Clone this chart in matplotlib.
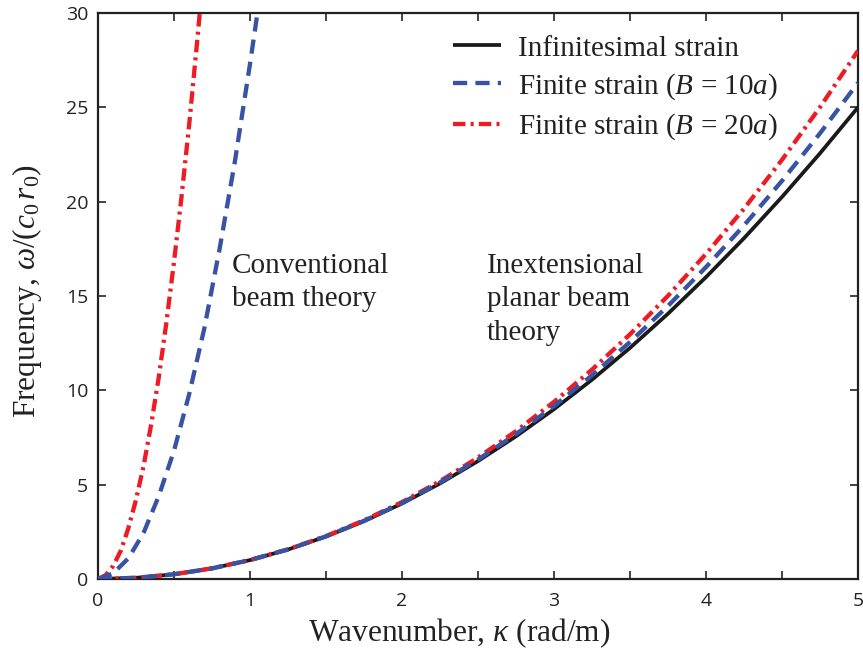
import matplotlib
matplotlib.use("Agg")
import matplotlib.pyplot as plt
from matplotlib.ticker import MultipleLocator

# ---- data ----
kappa = [0, 0.25, 0.5, 0.75, 1, 1.25, 1.5, 1.75, 2, 2.25, 2.5, 2.75, 3,
         3.25, 3.5, 3.75, 4, 4.25, 4.5, 4.75, 5]
omega_inf = [0, 0.0625, 0.25, 0.5625, 1.0, 1.5625, 2.25, 3.0625, 4.0, 5.0625,
             6.25, 7.5625, 9.0, 10.5625, 12.25, 14.0625, 16.0, 18.0625, 20.25,
             22.5625, 25.0]
omega_b10 = [0, 0.0625, 0.25, 0.563, 1.002, 1.568, 2.261, 3.082, 4.033, 5.116,
             6.331, 7.681, 9.168, 10.795, 12.562, 14.474, 16.532, 18.741,
             21.103, 23.621, 26.3]
omega_b20 = [0, 0.0625, 0.25, 0.564, 1.005, 1.574, 2.274, 3.108, 4.077, 5.186,
             6.438, 7.837, 9.389, 11.098, 12.970, 15.012, 17.229, 19.629,
             22.218, 25.006, 28.0]

kappa_conv10 = [0, 0.1, 0.2, 0.3, 0.4, 0.5, 0.6, 0.7, 0.8, 0.9, 1.0, 1.06]
omega_conv10 = [0, 0.3, 1.1, 2.45, 4.4, 6.8, 9.8, 13.3, 17.5, 22.1, 27.3, 30.6]
kappa_conv20 = [0, 0.05, 0.1, 0.15, 0.2, 0.25, 0.3, 0.35, 0.4, 0.45, 0.5,
                0.55, 0.6, 0.65, 0.68]
omega_conv20 = [0, 0.2, 0.7, 1.5, 2.7, 4.2, 6.0, 8.2, 10.7, 13.6, 16.8, 20.3,
                24.1, 28.3, 30.9]

labels = ["Infinitesimal strain", r"Finite strain ($B$ = 10$a$)",
          r"Finite strain ($B$ = 20$a$)"]

# ---- style ----
plt.rcParams["mathtext.fontset"] = "custom"
plt.rcParams["mathtext.rm"] = "Liberation Serif"
plt.rcParams["mathtext.it"] = "Liberation Serif:italic"
plt.rcParams["mathtext.bf"] = "Liberation Serif:bold"

BLACK = "#1a1a1a"
BLUE = "#3953a4"
RED = "#ed1c24"
serif = "Liberation Serif"

fig = plt.figure(figsize=(8.63, 6.56), dpi=100)
ax = fig.add_axes([98 / 863, 1 - 579 / 656, 760 / 863, 566 / 656])

ax.plot(kappa, omega_inf, color=BLACK, lw=2.7, solid_capstyle="butt",
        zorder=3, label=labels[0])
l20, = ax.plot(kappa, omega_b20, color=RED, lw=3.1, zorder=4, label=labels[2])
l20.set_dashes((2.9, 1.2, 0.7, 1.2))
l10, = ax.plot(kappa, omega_b10, color=BLUE, lw=3.1, zorder=5, label=labels[1])
l10.set_dashes((3.3, 1.9))

c20, = ax.plot(kappa_conv20, omega_conv20, color=RED, lw=3.1, zorder=4)
c20.set_dashes((2.9, 1.2, 0.7, 1.2))
c10, = ax.plot(kappa_conv10, omega_conv10, color=BLUE, lw=3.1, zorder=5)
c10.set_dashes((3.3, 1.9))

ax.set_xlim(0, 5)
ax.set_ylim(0, 30)
ax.xaxis.set_major_locator(MultipleLocator(1))
ax.xaxis.set_minor_locator(MultipleLocator(0.5))
ax.yaxis.set_major_locator(MultipleLocator(5))
ax.tick_params(which="both", direction="in", top=True, right=True,
               length=5.5, width=1.2, color="#222222")
ax.tick_params(which="major", labelsize=14, labelcolor="#222222")
ax.tick_params(axis="x", which="major", pad=9)
ax.tick_params(axis="y", which="major", pad=7)
for lab in ax.get_xticklabels() + ax.get_yticklabels():
    lab.set_fontfamily("Open Sans")
for s in ax.spines.values():
    s.set_linewidth(1.6)
    s.set_color("#222222")

ax.set_xlabel(r"Wavenumber, $\kappa$ (rad/m)", fontfamily=serif, fontsize=22.6,
              color="#222222")
ax.set_ylabel(r"Frequency, $\omega/(c_{\mathit{0}}\,r_{\mathit{0}})$",
              fontfamily=serif, fontsize=22.6, color="#222222")
ax.xaxis.set_label_coords(0.475, -0.066)
ax.yaxis.set_label_coords(-0.071, 0.508)

ax.text(0.88, 17.3, "Conventional\nbeam theory", fontfamily=serif,
        fontsize=21, va="top", ha="left", linespacing=1.38, color="#222222")
ax.text(2.56, 17.3, "Inextensional\nplanar beam\ntheory", fontfamily=serif,
        fontsize=21, va="top", ha="left", linespacing=1.38, color="#222222")

handles = [ax.lines[0], l10, l20]
leg = ax.legend(handles, labels, loc="upper left", bbox_to_anchor=(0.44, 0.997),
                frameon=False, prop={"family": serif, "size": 21},
                handlelength=1.65, handletextpad=0.6, labelspacing=0.33,
                borderaxespad=0.3)
for t in leg.get_texts():
    t.set_color("#222222")

fig.savefig("out.png", dpi=100)
